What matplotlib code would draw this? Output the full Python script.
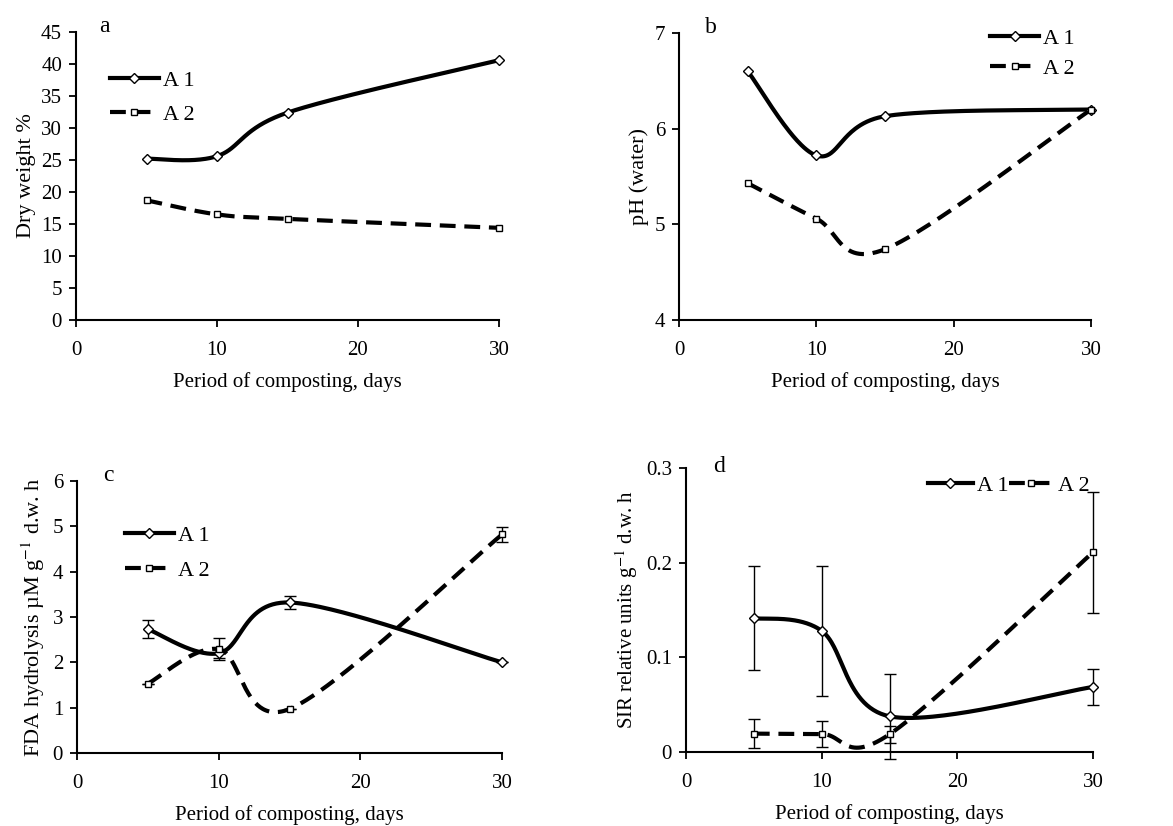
import numpy as np
import matplotlib.pyplot as plt

plt.rcParams['font.family'] = ['Liberation Serif', 'DejaVu Serif']
plt.rcParams['mathtext.fontset'] = 'stix'

days = [5, 10, 15, 30]

# a: dry weight %
dw_a1 = [25.2, 25.6, 32.4, 40.6]
dw_a2 = [18.7, 16.5, 15.8, 14.4]

# b: pH (water)
ph_a1 = [6.6, 5.72, 6.13, 6.2]
ph_a2 = [5.43, 5.06, 4.74, 6.2]

# c: FDA hydrolysis
fda_a1 = [2.73, 2.2, 3.32, 2.0]
fda_a1_err = [0.2, 0.1, 0.15, 0.0]
fda_a2 = [1.53, 2.29, 0.97, 4.82]
fda_a2_err = [0.0, 0.24, 0.0, 0.16]

# d: SIR
sir_a1 = [0.1415, 0.128, 0.0377, 0.0687]
sir_a1_err = [0.055, 0.069, 0.045, 0.019]
sir_a2 = [0.0194, 0.019, 0.0187, 0.211]
sir_a2_err = [0.015, 0.014, 0.009, 0.064]

W, H = 1173, 826
fig = plt.figure(figsize=(W / 100, H / 100), dpi=100)


def px_axes(left, right, top, bottom):
    return fig.add_axes([left / W, 1 - bottom / H, (right - left) / W, (bottom - top) / H])


def smooth(x, y, n=60):
    # Excel-like smoothed line: cubic Bezier with Catmull-Rom control points
    p = np.column_stack([x, y]).astype(float)
    p = np.vstack([p[0], p, p[-1]])
    out = []
    t = np.linspace(0, 1, n)[:, None]
    for i in range(1, len(p) - 2):
        p0, p1, p2, p3 = p[i - 1], p[i], p[i + 1], p[i + 2]
        c1 = p1 + (p2 - p0) / 6
        c2 = p2 - (p3 - p1) / 6
        seg = ((1 - t) ** 3) * p1 + 3 * ((1 - t) ** 2) * t * c1 + 3 * (1 - t) * t ** 2 * c2 + t ** 3 * p2
        out.append(seg)
    c = np.vstack(out)
    return c[:, 0], c[:, 1]


LW = 3.0
DASH = (3.8, 2.1)
MK1 = dict(marker='D', ms=5.2, mfc='white', mec='black', mew=1)
MK2 = dict(marker='s', ms=5, mfc='white', mec='black', mew=1)


def draw(ax, y1, y2, e1=None, e2=None):
    sx, sy = smooth(days, y1)
    ax.plot(sx, sy, color='black', lw=LW, solid_capstyle='butt', clip_on=False)
    sx, sy = smooth(days, y2)
    ax.plot(sx, sy, color='black', lw=LW, dashes=DASH, dash_capstyle='butt', clip_on=False)
    ax.errorbar(days, y1, yerr=e1, fmt='none', ecolor='black', elinewidth=1, capsize=4,
                capthick=1, clip_on=False, zorder=4)
    ax.errorbar(days, y2, yerr=e2, fmt='none', ecolor='black', elinewidth=1, capsize=4,
                capthick=1, clip_on=False, zorder=4)
    ax.plot(days, y1, ls='none', clip_on=False, zorder=5, **MK1)
    ax.plot(days, y2, ls='none', clip_on=False, zorder=5, **MK2)
    # legend handles
    h1, = ax.plot([], [], color='black', lw=LW, **MK1)
    h2, = ax.plot([], [], color='black', lw=LW, dashes=DASH, **MK2)
    return h1, h2


def style(ax):
    for s in ['top', 'right']:
        ax.spines[s].set_visible(False)
    ax.spines['left'].set_linewidth(1.5)
    ax.spines['bottom'].set_linewidth(1.5)
    ax.tick_params(direction='out', length=5, width=1.3, labelsize=15)
    ax.tick_params(axis='x', pad=10)
    ax.tick_params(axis='y', pad=5)
    ax.set_xlim(0, 30)
    ax.set_xticks([0, 10, 20, 30])
    ax.set_xlabel('Period of composting, days', fontsize=15, labelpad=9)


LEG = dict(frameon=False, fontsize=16, handletextpad=0.2)

# panel a
ax = px_axes(76, 499, 32, 320)
h1, h2 = draw(ax, dw_a1, dw_a2)
style(ax)
ax.set_ylim(0, 45)
ax.set_yticks(range(0, 46, 5))
ax.set_ylabel('Dry weight %', fontsize=16)
ax.text(0.055, 1.0, 'a', transform=ax.transAxes, fontsize=17, va='baseline')
ax.legend([h1, h2], ['A 1', 'A 2'], loc='upper left', bbox_to_anchor=(0.033, 0.937),
          labelspacing=0.6, handlelength=2.2, **LEG)

# panel b
ax = px_axes(679, 1091, 33, 320)
h1, h2 = draw(ax, ph_a1, ph_a2)
style(ax)
ax.set_ylim(4, 7)
ax.set_yticks([4, 5, 6, 7])
ax.set_ylabel('pH (water)', fontsize=16)
ax.text(0.063, 1.0, 'b', transform=ax.transAxes, fontsize=17, va='baseline')
ax.legend([h1, h2], ['A 1', 'A 2'], loc='upper right', bbox_to_anchor=(1.01, 1.087),
          labelspacing=0.45, handlelength=2.2, **LEG)

# panel c
ax = px_axes(77, 502, 481, 753)
h1, h2 = draw(ax, fda_a1, fda_a2, fda_a1_err, fda_a2_err)
style(ax)
ax.set_ylim(0, 6)
ax.set_yticks(range(0, 7))
ax.set_ylabel('FDA hydrolysis µM g$^{-1}$ d.w. h', fontsize=16)
ax.text(0.061, 1.0, 'c', transform=ax.transAxes, fontsize=17, va='baseline')
ax.legend([h1, h2], ['A 1', 'A 2'], loc='upper left', bbox_to_anchor=(0.066, 0.91),
          labelspacing=0.65, handlelength=2.2, **LEG)

# panel d
ax = px_axes(686, 1093, 468, 752)
h1, h2 = draw(ax, sir_a1, sir_a2, sir_a1_err, sir_a2_err)
style(ax)
ax.set_ylim(0, 0.3)
ax.set_yticks([0, 0.1, 0.2, 0.3])
ax.set_yticklabels(['0', '0.1', '0.2', '0.3'])
ax.set_ylabel('SIR relative units g$^{-1}$ d.w. h', fontsize=15)
ax.text(0.066, 0.986, 'd', transform=ax.transAxes, fontsize=17, va='baseline')
ax.legend([h1, h2], ['A 1', 'A 2'], loc='upper right', bbox_to_anchor=(1.04, 1.045),
          ncol=2, columnspacing=0.0, handlelength=2.0, **LEG)

fig.savefig('out.png', dpi=100)
